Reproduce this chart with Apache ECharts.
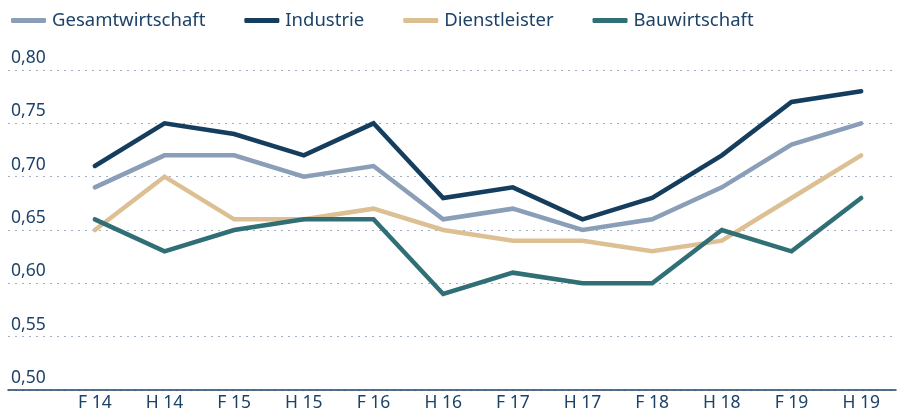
<!DOCTYPE html>
<html>
<head>
<meta charset="utf-8">
<script src="https://cdn.jsdelivr.net/npm/echarts@6/dist/echarts.min.js"></script>
<style>
  html, body { margin: 0; padding: 0; background: #fff; }
  #chart { width: 897px; height: 415px; }
</style>
</head>
<body>
<div id="chart"></div>
<script>
var categories = ['F 14', 'H 14', 'F 15', 'H 15', 'F 16', 'H 16', 'F 17', 'H 17', 'F 18', 'H 18', 'F 19', 'H 19'];
var gesamtwirtschaft = [0.69, 0.72, 0.72, 0.70, 0.71, 0.66, 0.67, 0.65, 0.66, 0.69, 0.73, 0.75];
var industrie = [0.71, 0.75, 0.74, 0.72, 0.75, 0.68, 0.69, 0.66, 0.68, 0.72, 0.77, 0.78];
var dienstleister = [0.65, 0.70, 0.66, 0.66, 0.67, 0.65, 0.64, 0.64, 0.63, 0.64, 0.68, 0.72];
var bauwirtschaft = [0.66, 0.63, 0.65, 0.66, 0.66, 0.59, 0.61, 0.60, 0.60, 0.65, 0.63, 0.68];

var textColor = '#1d4267';
var fontFamily = '"Noto Sans", sans-serif';
var colors = ['#8a9fb7', '#143d5e', '#dcc093', '#2f6f75'];

var chart = echarts.init(document.getElementById('chart'));

function lineSeries (name, data, idx) {
  return {
    name: name,
    type: 'line',
    xAxisIndex: 1,
    yAxisIndex: 1,
    data: data,
    symbol: 'none',
    lineStyle: { width: 4.5, color: colors[idx], cap: 'round', join: 'miter' },
    itemStyle: { color: colors[idx] },
    animation: false
  };
}

var option = {
  animation: false,
  color: colors,
  legend: {
    left: 6,
    top: 6,
    itemWidth: 35,
    itemHeight: 5,
    itemGap: 39,
    icon: 'roundRect',
    textStyle: { color: textColor, fontSize: 18.5, fontFamily: fontFamily, padding: [0, 0, 0, 1] },
    data: ['Gesamtwirtschaft', 'Industrie', 'Dienstleister', 'Bauwirtschaft']
  },
  grid: [
    // wide grid: gridlines and y labels
    { left: 8, right: 1, top: 70, bottom: 25 },
    // data grid
    { left: 60, right: 1, top: 70, bottom: 25 }
  ],
  xAxis: [
    {
      gridIndex: 0,
      type: 'value',
      min: 0,
      max: 1,
      axisLine: { show: true, onZero: false, lineStyle: { color: '#1d4267', width: 1.5 } },
      axisTick: { show: false },
      axisLabel: { show: false },
      splitLine: { show: false }
    },
    {
      gridIndex: 1,
      type: 'category',
      data: categories,
      boundaryGap: true,
      axisLine: { show: false },
      axisTick: { show: false },
      axisLabel: { color: textColor, fontSize: 17.5, fontFamily: fontFamily, margin: 4 }
    }
  ],
  yAxis: [
    {
      gridIndex: 0,
      type: 'value',
      min: 0.5,
      max: 0.8,
      interval: 0.05,
      axisLine: { show: false },
      axisTick: { show: false },
      splitLine: { show: true, lineStyle: { color: '#9fb0c4', type: [2, 5], width: 1.2 } },
      axisLabel: {
        inside: true,
        margin: 3,
        verticalAlign: 'bottom',
        padding: [0, 0, 3, 0],
        color: textColor,
        fontSize: 17.5,
        fontFamily: fontFamily,
        formatter: function (v) { return v.toFixed(2).replace('.', ','); }
      }
    },
    {
      gridIndex: 1,
      type: 'value',
      min: 0.5,
      max: 0.8,
      interval: 0.05,
      show: false,
      splitLine: { show: false }
    }
  ],
  series: [
    lineSeries('Gesamtwirtschaft', gesamtwirtschaft, 0),
    lineSeries('Industrie', industrie, 1),
    lineSeries('Dienstleister', dienstleister, 2),
    lineSeries('Bauwirtschaft', bauwirtschaft, 3)
  ]
};

chart.setOption(option);
</script>
</body>
</html>
